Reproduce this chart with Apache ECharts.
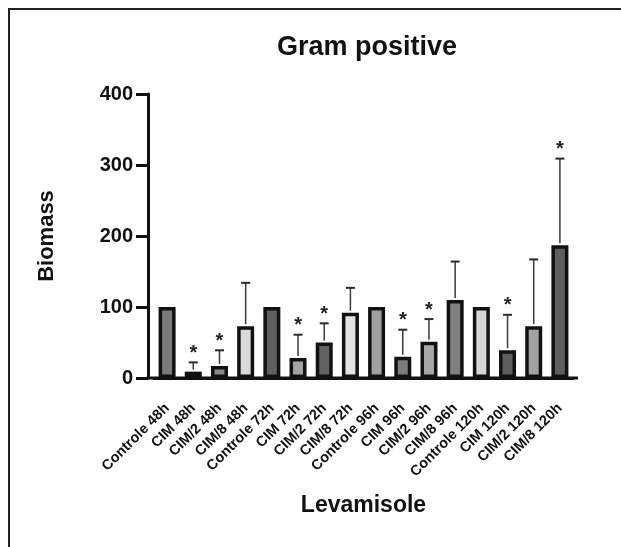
<!DOCTYPE html>
<html>
<head>
<meta charset="utf-8">
<script src="https://cdn.jsdelivr.net/npm/echarts@6/dist/echarts.min.js"></script>
<style>
  html, body { margin: 0; padding: 0; background: #fff; }
  #chart { width: 621px; height: 547px; }
</style>
</head>
<body>
<div id="chart"></div>
<script>
// data
var categories = ['Controle 48h', 'CIM 48h', 'CIM/2 48h', 'CIM/8 48h',
                  'Controle 72h', 'CIM 72h', 'CIM/2 72h', 'CIM/8 72h',
                  'Controle 96h', 'CIM 96h', 'CIM/2 96h', 'CIM/8 96h',
                  'Controle 120h', 'CIM 120h', 'CIM/2 120h', 'CIM/8 120h'];
var biomass = [100, 9, 17, 73, 100, 28, 50, 92, 100, 30, 51, 110, 100, 39, 73, 187];
// upper end of the error bar (null = no bar)
var errorTop = [null, 22, 39, 134, null, 61, 77, 127, null, 68, 83, 164, null, 89, 167, 309];
var significant = [0, 1, 1, 0, 0, 1, 1, 0, 0, 1, 1, 0, 0, 1, 0, 1];
var yMin = 0, yMax = 400, yStep = 100;

// fill greys per bar
var barColors = ['#7a7a7a', '#7e7e7e', '#8a8a8a', '#d9d9d9',
                 '#5f5f5f', '#a3a3a3', '#626262', '#e2e2e2',
                 '#a0a0a0', '#7c7c7c', '#a8a8a8', '#808080',
                 '#d6d6d6', '#5e5e5e', '#a2a2a2', '#5e5e5e'];

var FONT = 'Liberation Sans';
var chart = echarts.init(document.getElementById('chart'));

var errData = [];
categories.forEach(function (c, i) {
    if (errorTop[i] != null) errData.push([i, biomass[i], errorTop[i], significant[i]]);
});

function renderErr(params, api) {
    var base = api.coord([api.value(0), api.value(1)]);
    var top = api.coord([api.value(0), api.value(2)]);
    var kids = [
        { type: 'line', shape: { x1: base[0], y1: base[1] - 2, x2: top[0], y2: top[1] },
          style: { stroke: '#3a3a3a', lineWidth: 1.5 } },
        { type: 'line', shape: { x1: top[0] - 4.5, y1: top[1], x2: top[0] + 4.5, y2: top[1] },
          style: { stroke: '#2a2a2a', lineWidth: 2 } }
    ];
    if (api.value(3)) {
        kids.push({ type: 'text', x: top[0], y: top[1] - 9,
            style: { text: '*', fill: '#222', font: 'bold 20px ' + FONT,
                     align: 'center', verticalAlign: 'middle' } });
    }
    return { type: 'group', children: kids };
}

chart.setOption({
    animation: false,
    backgroundColor: '#fff',
    title: {
        text: 'Gram positive',
        left: 362, top: 29, textAlign: 'center',
        textStyle: { fontFamily: FONT, fontWeight: 'bold', fontSize: 27, color: '#111' }
    },
    grid: { left: 154, top: 94, width: 419, height: 284, containLabel: false },
    xAxis: {
        type: 'category',
        data: categories,
        name: 'Levamisole',
        nameLocation: 'middle',
        nameGap: 116,
        nameMoveOverlap: false,
        nameTextStyle: { fontFamily: FONT, fontWeight: 'bold', fontSize: 23, color: '#111' },
        axisLine: { lineStyle: { color: '#111', width: 3 } },
        axisTick: { alignWithLabel: true, length: 9, lineStyle: { color: '#111', width: 3 } },
        axisLabel: {
            rotate: 45, interval: 0, margin: 28,
            fontFamily: FONT, fontWeight: 'bold', fontSize: 14.5, color: '#111'
        }
    },
    yAxis: {
        type: 'value',
        min: yMin, max: yMax, interval: yStep,
        offset: 6,
        name: 'Biomass',
        nameLocation: 'middle',
        nameGap: 90,
        nameRotate: 90,
        nameTextStyle: { fontFamily: FONT, fontWeight: 'bold', fontSize: 22, color: '#111' },
        splitLine: { show: false },
        axisLine: { show: true, lineStyle: { color: '#111', width: 3 } },
        axisTick: { show: true, length: 12, lineStyle: { color: '#111', width: 3 } },
        axisLabel: { margin: 15, fontFamily: FONT, fontWeight: 'bold', fontSize: 20, color: '#111' }
    },
    series: [{
        type: 'bar',
        barWidth: 17,
        data: biomass.map(function (v, i) {
            return { value: v, itemStyle: { color: barColors[i] } };
        }),
        itemStyle: { borderColor: '#111', borderWidth: 3.5 }
    }, {
        type: 'custom',
        renderItem: renderErr,
        data: errData,
        z: 3
    }]
});

// frame around the figure and the x axis line running from the y axis
var y0 = chart.convertToPixel({ yAxisIndex: 0 }, 0);
chart.setOption({
    graphic: [{
        type: 'rect', silent: true,
        shape: { x: 9, y: 9, width: 800, height: 800 },
        style: { fill: 'none', stroke: '#222', lineWidth: 2 }
    }, {
        type: 'line', silent: true,
        shape: { x1: 146.5, y1: y0, x2: 578, y2: y0 },
        style: { stroke: '#111', lineWidth: 3 }
    }]
});
</script>
</body>
</html>
